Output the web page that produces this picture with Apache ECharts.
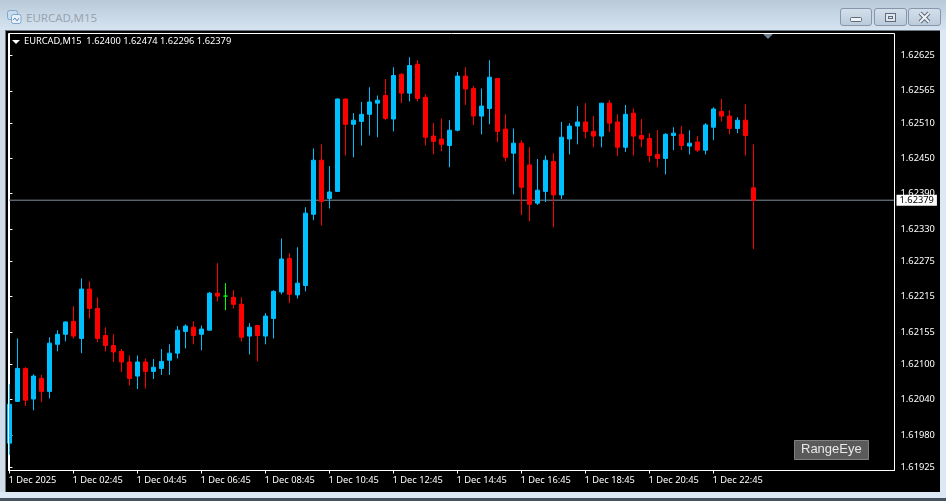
<!DOCTYPE html>
<html>
<head>
<meta charset="utf-8">
<title>EURCAD,M15</title>
<style>
html,body{margin:0;padding:0;width:946px;height:501px;overflow:hidden;background:#dce8f4}
#win{position:absolute;left:0;top:0;width:946px;height:30px;background:linear-gradient(#b9c9d8,#d6e4f1)}
#left{position:absolute;left:0;top:30px;width:5px;height:462px;background:#cfdce8}
#panel{position:absolute;left:5px;top:30px;width:935px;height:462px;background:#000;box-sizing:border-box;border-top:1px solid #6a7680;border-left:1px solid #6a7680}
#foot{position:absolute;left:0;top:498px;width:946px;height:3px;background:#46525e}
#ttl{position:absolute;left:26px;top:10px;font:11.5px "Noto Sans",sans-serif;color:#98a4b0}
.btn{position:absolute;top:8px;height:16px;box-sizing:content-box;border:1px solid #8796aa;border-radius:3px;background:linear-gradient(#d3dfeb,#bccbda)}
.btn svg,#ico{position:absolute;left:0;top:0}
#main{position:absolute;left:0;top:0;width:946px;height:501px}
</style>
</head>
<body>
<div id="win"></div><div id="left"></div><div id="panel"></div><div id="foot"></div>
<svg id="ico" width="16" height="16" style="left:7px;top:9px">
  <rect x="0.5" y="1.5" width="10" height="9" rx="2" fill="#c9dcee" stroke="#7fa6cc"/>
  <rect x="4.5" y="5.5" width="9.5" height="9" rx="2" fill="#e8f1f9" stroke="#7fa6cc"/>
  <path d="M6 11l2-2 2 3 2-3" fill="none" stroke="#5b8dbd"/>
</svg>
<div id="ttl">EURCAD,M15</div>
<div class="btn" style="left:840px;width:30px"><svg width="30" height="16"><rect x="9.5" y="8.5" width="11" height="4" rx="1" fill="#eef2f6" stroke="#5d6b7a"/></svg></div>
<div class="btn" style="left:874px;width:31px"><svg width="31" height="16"><rect x="10.5" y="4.5" width="10" height="8" fill="#dfe6ee" stroke="#5d6b7a"/><rect x="13.5" y="7.5" width="4" height="2" fill="none" stroke="#5d6b7a"/></svg></div>
<div class="btn" style="left:908px;width:31px"><svg width="31" height="16"><path d="M11 4l9 9M20 4l-9 9" stroke="#5d6b7a" stroke-width="4"/><path d="M11 4l9 9M20 4l-9 9" stroke="#eef2f6" stroke-width="2"/></svg></div>
<div id="main"></div>

<script src="https://cdn.jsdelivr.net/npm/echarts@6/dist/echarts.min.js"></script>
<script type="text/javascript">
var opens = [1.61966,1.62037,1.62093,1.62041,1.62076,1.62054,1.62134,1.62151,1.62173,1.62144,1.62228,1.62195,1.62149,1.62132,1.62122,1.62104,1.62080,1.62104,1.62088,1.62093,1.62107,1.62119,1.62156,1.62163,1.62151,1.62158,1.62221,1.62216,1.62214,1.62202,1.62148,1.62166,1.62148,1.62178,1.62223,1.62280,1.62218,1.62234,1.62355,1.62447,1.62382,1.62394,1.62551,1.62508,1.62513,1.62525,1.62544,1.62557,1.62517,1.62593,1.62561,1.62610,1.62554,1.62488,1.62483,1.62472,1.62498,1.62590,1.62569,1.62522,1.62535,1.62586,1.62500,1.62459,1.62476,1.62439,1.62374,1.62394,1.62445,1.62388,1.62483,1.62505,1.62512,1.62496,1.62488,1.62544,1.62512,1.62469,1.62527,1.62489,1.62484,1.62457,1.62450,1.62489,1.62491,1.62471,1.62478,1.62464,1.62503,1.62530,1.62522,1.62501,1.62515,1.62400];
var closes = [1.62032,1.62093,1.62039,1.62080,1.62054,1.62136,1.62151,1.62172,1.62148,1.62228,1.62195,1.62144,1.62132,1.62121,1.62104,1.62076,1.62104,1.62088,1.62095,1.62105,1.62119,1.62158,1.62165,1.62149,1.62160,1.62221,1.62216,1.62216,1.62202,1.62146,1.62163,1.62149,1.62182,1.62224,1.62279,1.62219,1.62238,1.62357,1.62447,1.62377,1.62393,1.62551,1.62508,1.62515,1.62525,1.62546,1.62549,1.62518,1.62591,1.62561,1.62608,1.62552,1.62486,1.62479,1.62474,1.62498,1.62590,1.62568,1.62522,1.62539,1.62588,1.62496,1.62452,1.62476,1.62401,1.62372,1.62396,1.62447,1.62388,1.62486,1.62505,1.62512,1.62496,1.62488,1.62544,1.62510,1.62469,1.62525,1.62488,1.62483,1.62455,1.62450,1.62491,1.62493,1.62472,1.62476,1.62464,1.62507,1.62534,1.62522,1.62501,1.62515,1.62489,1.62379];
var lows = [1.61946,1.62036,1.62029,1.62022,1.62036,1.62042,1.62122,1.62139,1.62144,1.62119,1.62178,1.62138,1.62122,1.62104,1.62087,1.62064,1.62058,1.62059,1.62075,1.62082,1.62082,1.62110,1.62127,1.62134,1.62124,1.62158,1.62207,1.62192,1.62195,1.62139,1.62117,1.62105,1.62134,1.62144,1.62219,1.62204,1.62212,1.62224,1.62345,1.62336,1.62365,1.62393,1.62455,1.62452,1.62472,1.62489,1.62486,1.62515,1.62496,1.62544,1.62547,1.62547,1.62472,1.62457,1.62462,1.62435,1.62496,1.62541,1.62507,1.62491,1.62508,1.62478,1.62445,1.62389,1.62354,1.62343,1.62371,1.62376,1.62333,1.62381,1.62457,1.62474,1.62484,1.62469,1.62469,1.62495,1.62454,1.62461,1.62455,1.62469,1.62444,1.62435,1.62423,1.62464,1.62464,1.62457,1.62461,1.62457,1.62481,1.62513,1.62491,1.62493,1.62455,1.62296];
var highs = [1.62066,1.62144,1.62095,1.62083,1.62082,1.62146,1.62158,1.62173,1.62199,1.62246,1.62241,1.62214,1.62163,1.62151,1.62126,1.62115,1.62115,1.62110,1.62109,1.62126,1.62134,1.62165,1.62168,1.62173,1.62166,1.62223,1.62272,1.62238,1.62226,1.62214,1.62170,1.62166,1.62187,1.62226,1.62314,1.62289,1.62299,1.62367,1.62467,1.62474,1.62437,1.62552,1.62552,1.62527,1.62546,1.62571,1.62557,1.62585,1.62605,1.62595,1.62622,1.62617,1.62559,1.62510,1.62518,1.62515,1.62597,1.62605,1.62573,1.62569,1.62617,1.62586,1.62525,1.62501,1.62481,1.62469,1.62449,1.62455,1.62459,1.62512,1.62510,1.62539,1.62544,1.62522,1.62544,1.62549,1.62525,1.62541,1.62535,1.62517,1.62493,1.62498,1.62493,1.62503,1.62505,1.62498,1.62488,1.62510,1.62537,1.62551,1.62532,1.62520,1.62542,1.62474];
var priceTicks = [1.62625,1.62565,1.62510,1.62450,1.62390,1.62330,1.62275,1.62215,1.62155,1.62100,1.62040,1.61980,1.61925];
var timeLabels = ['1 Dec 2025','1 Dec 02:45','1 Dec 04:45','1 Dec 06:45','1 Dec 08:45','1 Dec 10:45','1 Dec 12:45','1 Dec 14:45','1 Dec 16:45','1 Dec 18:45','1 Dec 20:45','1 Dec 22:45'];
var barsPerLabel = 8;
var bid = 1.62379;
var headerText = 'EURCAD,M15  1.62400 1.62474 1.62296 1.62379';

var candles = opens.map(function (o, i) { return [i, o, closes[i], lows[i], highs[i]]; });
var timeTicks = timeLabels.map(function (t, i) { return i * barsPerLabel; });
var xMin = -0.125, xMax = 110.625;
var font = '"Noto Sans", sans-serif';

var myChart = echarts.init(document.getElementById('main'));
var option = {
	backgroundColor: 'transparent',
	animation: false,
	grid: { left: 8.5, top: 33.5, width: 886, height: 437 },
	xAxis: {
		type: 'value', min: xMin, max: xMax, splitLine: { show: false },
		axisLine: { lineStyle: { color: '#fff' } },
		axisTick: { length: 3, lineStyle: { color: '#fff' }, customValues: timeTicks },
		axisLabel: {
			color: '#fff', fontFamily: font, fontSize: 9.3, margin: 5, align: 'left', padding: [0, 0, 0, -1],
			customValues: timeTicks,
			formatter: function (v) { return timeLabels[v / barsPerLabel]; }
		}
	},
	yAxis: {
		type: 'value', position: 'right', min: 1.619195, max: 1.626624, splitLine: { show: false },
		axisLine: { show: true, lineStyle: { color: '#fff' } },
		axisTick: { show: true, length: 3, lineStyle: { color: '#fff' }, customValues: priceTicks },
		axisLabel: {
			color: '#fff', fontFamily: font, fontSize: 9.3, margin: 6, padding: [2, 0, 0, 0],
			customValues: priceTicks,
			formatter: function (v) { return v.toFixed(5); }
		}
	},
	series: [{
		type: 'line', z: 1, symbol: 'none', silent: true, clip: false,
		data: [[xMin, bid], [xMax, bid]],
		lineStyle: { color: '#8090a0', width: 1 },
		endLabel: {
			show: true, distance: 2, color: '#000', backgroundColor: '#fff', fontFamily: font, fontSize: 9.3, padding: [2, 3, 0, 3],
			formatter: function () { return bid.toFixed(5); }
		}
	}, {
		type: 'candlestick', z: 2, barWidth: 4, data: candles,
		itemStyle: { color: '#00bfff', color0: '#ff0000', borderColor: '#00bfff', borderColor0: '#ff0000', borderColorDoji: '#00ff00', borderWidth: 1 }
	}],
	graphic: [
		{ type: 'rect', z: 10, shape: { x: 8.5, y: 33.5, width: 886, height: 437 }, style: { fill: null, stroke: '#fff', lineWidth: 1 } },
		{ type: 'polygon', shape: { points: [[12, 40], [20, 40], [16, 44]] }, style: { fill: '#fff' } },
		{ type: 'polygon', z: 11, shape: { points: [[763, 34], [773, 34], [768, 39]] }, style: { fill: '#708090' } },
		{ type: 'text', left: 24, top: 37, style: { text: headerText, fill: '#fff', font: '9.3px ' + font } },
		{ type: 'rect', shape: { x: 794.5, y: 440.5, width: 74, height: 19 }, style: { fill: '#5a5a5a', stroke: '#808080' } },
		{ type: 'text', left: 801, top: 443, style: { text: 'RangeEye', fill: '#e8e8e8', font: '13px "Liberation Sans", sans-serif' } }
	]
};
myChart.setOption(option);
</script>
</body>
</html>
